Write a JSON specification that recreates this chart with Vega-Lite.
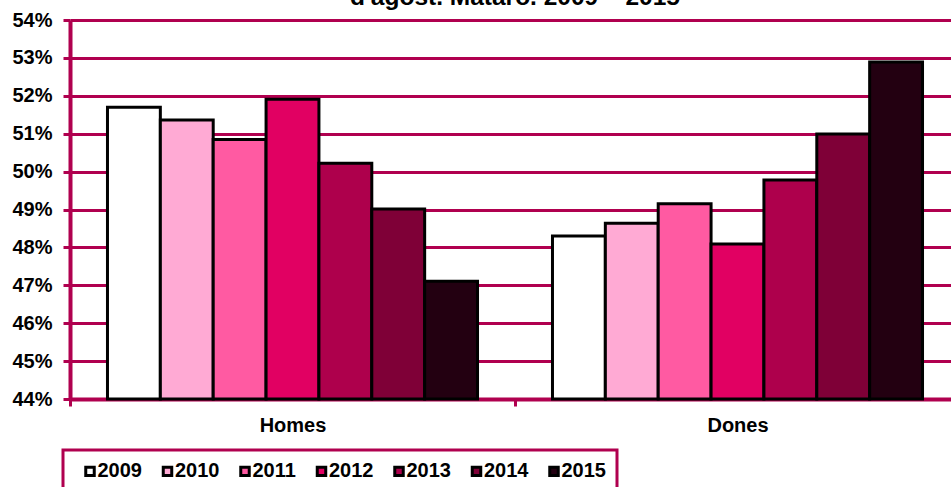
{
  "$schema": "https://vega.github.io/schema/vega-lite/v6.json",
  "width": 890,
  "height": 379,
  "autosize": {"type": "none"},
  "padding": {"left": 70, "top": 20, "right": 0, "bottom": 88},
  "background": "white",
  "title": {
    "text": "d'agost. Mataró. 2009 – 2015",
    "font": "Liberation Sans",
    "fontSize": 24.5,
    "fontWeight": "bold",
    "color": "black",
    "anchor": "middle",
    "frame": "group",
    "offset": 0,
    "dy": 0
  },
  "config": {
    "view": {"stroke": null},
    "font": "Liberation Sans"
  },
  "data": {
    "values": [
      {"sexe": "Homes", "year": "2009", "pct": 0.517},
      {"sexe": "Homes", "year": "2010", "pct": 0.5136},
      {"sexe": "Homes", "year": "2011", "pct": 0.5085},
      {"sexe": "Homes", "year": "2012", "pct": 0.5191},
      {"sexe": "Homes", "year": "2013", "pct": 0.5022},
      {"sexe": "Homes", "year": "2014", "pct": 0.4901},
      {"sexe": "Homes", "year": "2015", "pct": 0.4711},
      {"sexe": "Dones", "year": "2009", "pct": 0.483},
      {"sexe": "Dones", "year": "2010", "pct": 0.4864},
      {"sexe": "Dones", "year": "2011", "pct": 0.4915},
      {"sexe": "Dones", "year": "2012", "pct": 0.4809},
      {"sexe": "Dones", "year": "2013", "pct": 0.4978},
      {"sexe": "Dones", "year": "2014", "pct": 0.5099},
      {"sexe": "Dones", "year": "2015", "pct": 0.5289}
    ]
  },
  "mark": {"type": "bar", "stroke": "black", "strokeWidth": 3},
  "encoding": {
    "x": {
      "field": "sexe",
      "type": "nominal",
      "sort": ["Homes", "Dones"],
      "scale": {"paddingInner": 0, "paddingOuter": 0},
      "axis": {
        "title": null,
        "labelAngle": 0,
        "labelFont": "Liberation Sans",
        "labelFontSize": 20,
        "labelFontWeight": "bold",
        "labelColor": "black",
        "labelPadding": 9,
        "domainColor": "#B0004F",
        "domainWidth": 4,
        "tickColor": "#B0004F",
        "tickWidth": 3,
        "tickSize": 7,
        "tickBand": "extent",
        "grid": false
      }
    },
    "xOffset": {
      "field": "year",
      "type": "nominal",
      "sort": ["2009", "2010", "2011", "2012", "2013", "2014", "2015"],
      "scale": {"paddingInner": 0, "paddingOuter": 0.709}
    },
    "y": {
      "field": "pct",
      "type": "quantitative",
      "scale": {"domain": [0.44, 0.54], "zero": false, "nice": false},
      "axis": {
        "title": null,
        "format": ".0%",
        "values": [0.44, 0.45, 0.46, 0.47, 0.48, 0.49, 0.5, 0.51, 0.52, 0.53, 0.54],
        "labelFont": "Liberation Sans",
        "labelFontSize": 20,
        "labelFontWeight": "bold",
        "labelColor": "black",
        "labelPadding": 11,
        "domainColor": "#B0004F",
        "domainWidth": 4,
        "tickColor": "#B0004F",
        "tickWidth": 3,
        "tickSize": 7,
        "grid": true,
        "gridColor": "#B0004F",
        "gridWidth": 3,
        "gridOpacity": 1
      }
    },
    "y2": {"datum": 0.44},
    "fill": {
      "field": "year",
      "type": "nominal",
      "scale": {
        "domain": ["2009", "2010", "2011", "2012", "2013", "2014", "2015"],
        "range": ["#FFFFFF", "#FFAAD4", "#FF5AA2", "#E10062", "#AE004C", "#7F0037", "#230011"]
      },
      "legend": {
        "title": null,
        "orient": "none",
        "direction": "horizontal",
        "legendX": -7,
        "legendY": 430,
        "strokeColor": "#B0004F",
        "padding": 11,
        "symbolType": "square",
        "symbolSize": 72,
        "symbolStrokeColor": "black",
        "symbolStrokeWidth": 3,
        "symbolOffset": 6,
        "labelFont": "Liberation Sans",
        "labelFontSize": 20,
        "labelFontWeight": "bold",
        "labelColor": "black",
        "labelOffset": -2.5,
        "columnPadding": 9.5,
        "encode": {"legend": {"update": {"strokeWidth": {"value": 3}}}}
      }
    }
  }
}
